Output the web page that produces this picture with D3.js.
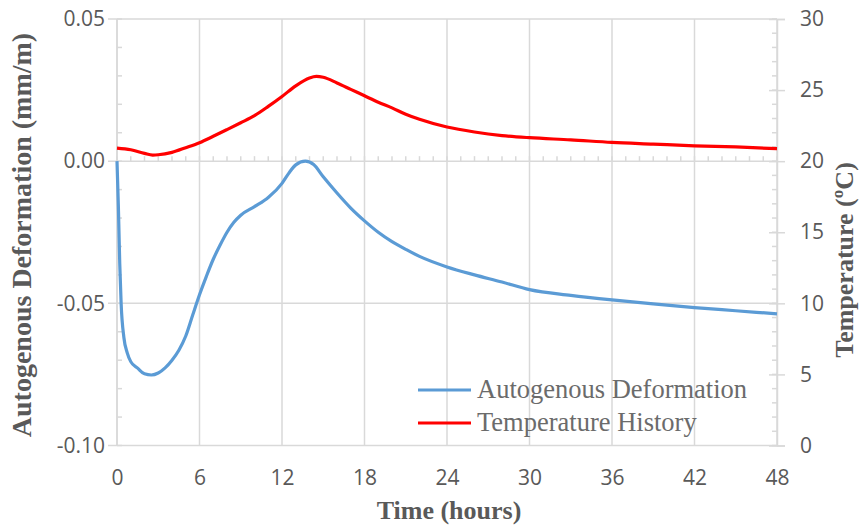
<!DOCTYPE html>
<html>
<head>
<meta charset="utf-8">
<script src="https://cdn.jsdelivr.net/npm/d3@7"></script>
<style>
  body { margin: 0; background: #fff; }
  .tick text { font-family: "Open Sans", sans-serif; font-size: 21px; fill: #595959; }
  .title { font-family: "Liberation Serif", serif; font-weight: bold; font-size: 26px; fill: #595959; }
  .legendText { font-family: "Liberation Serif", serif; font-size: 26.5px; fill: #6b6b6b; }
</style>
</head>
<body>
<script>
//time (hours) and deformation (mm/m)
var defTime = [0, 0.1, 0.2, 0.3, 0.5, 0.75, 1, 1.5, 2, 2.5, 3, 3.5, 4, 4.5, 5, 5.5, 6, 6.5, 7, 7.5, 8, 8.5, 9, 10, 11, 12, 12.5, 13, 13.7, 14.3, 15, 16, 17, 18, 19, 20, 21, 22, 24, 26, 28, 30, 33, 36, 39, 42, 45, 48];
var defValues = [0, -0.016, -0.036, -0.05, -0.062, -0.0675, -0.0705, -0.0728, -0.0748, -0.0752, -0.0745, -0.0727, -0.0700, -0.0665, -0.0615, -0.0542, -0.0470, -0.0405, -0.0345, -0.0295, -0.0250, -0.0215, -0.0190, -0.0160, -0.0128, -0.0078, -0.0042, -0.0013, 0.0, -0.0012, -0.0055, -0.0112, -0.0165, -0.0210, -0.0250, -0.0283, -0.0310, -0.0335, -0.0372, -0.0400, -0.0425, -0.0452, -0.0472, -0.0488, -0.0502, -0.0515, -0.0526, -0.0537];

//time (hours) and temperature (C)
var tempTime = [0, 1, 2, 2.6, 3, 4, 5, 6, 7, 8, 9, 10, 11, 12, 13, 14, 14.5, 15, 16, 17, 18, 19, 20, 21, 22, 24, 26, 28, 30, 33, 36, 39, 42, 45, 48];
var tempValues = [20.92, 20.8, 20.55, 20.43, 20.45, 20.62, 20.95, 21.3, 21.75, 22.22, 22.7, 23.2, 23.85, 24.55, 25.3, 25.85, 25.96, 25.9, 25.5, 25.05, 24.6, 24.15, 23.75, 23.3, 22.95, 22.4, 22.05, 21.8, 21.65, 21.5, 21.32, 21.2, 21.08, 21.0, 20.88];

//tick labels
var xTicks = [0, 6, 12, 18, 24, 30, 36, 42, 48];
var leftTicks = [0.05, 0, -0.05, -0.10];
var rightTicks = [0, 5, 10, 15, 20, 25, 30];

(function (){

var width = 861, height = 526;
var plotLeft = 117, plotRight = 777, plotTop = 19, plotBottom = 445.5;
var gridColor = "#d9d9d9";

var svg = d3.select("body").append("svg")
    .attr("width", width)
    .attr("height", height);

var x = d3.scaleLinear().domain([0, 48]).range([plotLeft, plotRight]);
var yL = d3.scaleLinear().domain([-0.10, 0.05]).range([plotBottom, plotTop]);
var yR = d3.scaleLinear().domain([0, 30]).range([plotBottom, plotTop]);

//vertical gridlines
svg.selectAll(".vgrid")
    .data(xTicks)
    .enter()
    .append("line")
    .attr("x1", function(d){ return x(d); })
    .attr("x2", function(d){ return x(d); })
    .attr("y1", plotTop)
    .attr("y2", plotBottom)
    .attr("stroke", gridColor)
    .attr("stroke-width", 1.5);

//horizontal gridlines (extend left as major ticks)
svg.selectAll(".hgrid")
    .data(leftTicks)
    .enter()
    .append("line")
    .attr("x1", plotLeft - 9)
    .attr("x2", plotRight)
    .attr("y1", function(d){ return yL(d); })
    .attr("y2", function(d){ return yL(d); })
    .attr("stroke", gridColor)
    .attr("stroke-width", 1.5);

//left axis, plain hyphen for negatives
var leftAxis = svg.append("g")
    .attr("transform", "translate(" + plotLeft + ",0)")
    .call(d3.axisLeft(yL).tickValues(leftTicks).tickSize(0).tickPadding(12)
        .tickFormat(function(d){ return (d < 0 ? "-" : "") + Math.abs(d).toFixed(2); }));
leftAxis.select(".domain").remove();

svg.append("line")
    .attr("x1", plotLeft).attr("x2", plotLeft)
    .attr("y1", plotTop).attr("y2", plotBottom)
    .attr("stroke", gridColor).attr("stroke-width", 1.5);

//left minor ticks
svg.selectAll(".lminor")
    .data(d3.range(-10, 6, 1))
    .enter()
    .append("line")
    .attr("x1", plotLeft).attr("x2", plotLeft + 5)
    .attr("y1", function(d){ return yL(d / 100); })
    .attr("y2", function(d){ return yL(d / 100); })
    .attr("stroke", gridColor).attr("stroke-width", 1.5);

//right axis
var rightAxis = svg.append("g")
    .attr("transform", "translate(" + plotRight + ",0)")
    .call(d3.axisRight(yR).tickValues(rightTicks).tickSize(8).tickPadding(15));
rightAxis.select(".domain").attr("stroke", gridColor).attr("stroke-width", 1.5);
rightAxis.selectAll(".tick line").attr("stroke", gridColor).attr("stroke-width", 1.5).attr("x1", -8);

svg.selectAll(".rminor")
    .data(d3.range(0, 31, 1))
    .enter()
    .append("line")
    .attr("x1", plotRight - 5).attr("x2", plotRight)
    .attr("y1", function(d){ return yR(d); })
    .attr("y2", function(d){ return yR(d); })
    .attr("stroke", gridColor).attr("stroke-width", 1.5);

//x axis labels at the bottom
var xAxis = svg.append("g")
    .attr("transform", "translate(0," + plotBottom + ")")
    .call(d3.axisBottom(x).tickValues(xTicks).tickSize(0).tickPadding(25));
xAxis.select(".domain").remove();

//minor hour ticks on the zero line
svg.selectAll(".xminor")
    .data(d3.range(0, 49, 1))
    .enter()
    .append("line")
    .attr("x1", function(d){ return x(d); })
    .attr("x2", function(d){ return x(d); })
    .attr("y1", yL(0))
    .attr("y2", yL(0) - 5)
    .attr("stroke", gridColor).attr("stroke-width", 1.5);

//series lines
var defLine = d3.line()
    .x(function(d, i){ return x(defTime[i]); })
    .y(function(d){ return yL(d); })
    .curve(d3.curveMonotoneX);

var tempLine = d3.line()
    .x(function(d, i){ return x(tempTime[i]); })
    .y(function(d){ return yR(d); })
    .curve(d3.curveMonotoneX);

svg.append("path")
    .datum(defValues)
    .attr("d", defLine)
    .attr("fill", "none")
    .attr("stroke", "#5b9bd5")
    .attr("stroke-width", 3.2);

svg.append("path")
    .datum(tempValues)
    .attr("d", tempLine)
    .attr("fill", "none")
    .attr("stroke", "#ff0000")
    .attr("stroke-width", 3.2);

//axis titles
svg.append("text")
    .attr("class", "title")
    .style("font-size", "28px")
    .attr("text-anchor", "middle")
    .attr("transform", "translate(31,235) rotate(-90)")
    .text("Autogenous Deformation (mm/m)");

svg.append("text")
    .attr("class", "title")
    .attr("text-anchor", "middle")
    .attr("transform", "translate(853,260) rotate(-90)")
    .text("Temperature (ºC)");

svg.append("text")
    .attr("class", "title")
    .attr("text-anchor", "middle")
    .attr("x", 449)
    .attr("y", 519)
    .text("Time (hours)");

//legend
var legendItems = [
    {name: "Autogenous Deformation", color: "#5b9bd5"},
    {name: "Temperature History", color: "#ff0000"}
];
var legend = svg.selectAll(".legend")
    .data(legendItems)
    .enter()
    .append("g")
    .attr("transform", function(d, i){ return "translate(418," + (390 + i * 33) + ")"; });

legend.append("line")
    .attr("x1", 0).attr("x2", 53)
    .attr("stroke", function(d){ return d.color; })
    .attr("stroke-width", 3.2);

legend.append("text")
    .attr("class", "legendText")
    .attr("x", 59)
    .attr("y", 8)
    .text(function(d){ return d.name; });

})();
</script>
</body>
</html>
